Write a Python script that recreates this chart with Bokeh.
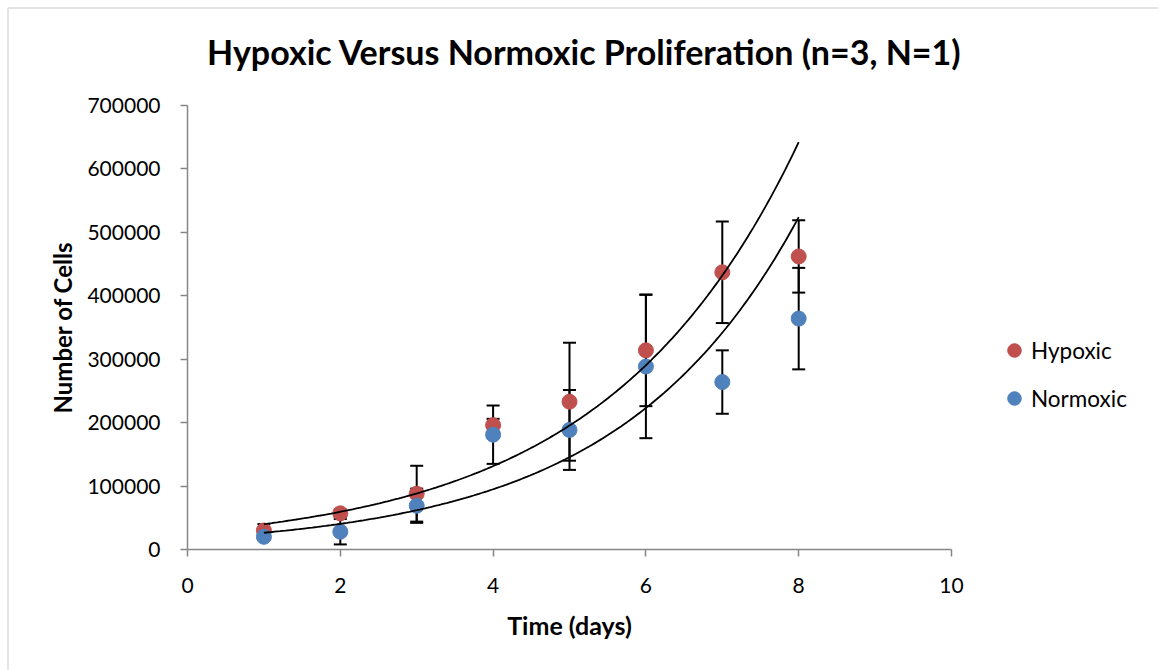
import numpy as np
from bokeh.plotting import figure
from bokeh.models import (Range1d, FixedTicker, Whisker, TeeHead, ColumnDataSource,
                          Legend, LegendItem, Label, BoxAnnotation)
from bokeh.embed import file_html
from bokeh.resources import INLINE

# ---- data ----
days = [1, 2, 3, 4, 5, 6, 7, 8]
hypoxic = [30000, 57000, 88000, 196000, 233000, 314000, 437000, 462000]
hypoxic_err = [10000, 6000, 44000, 10000, 93000, 88000, 80000, 57000]
normoxic = [20000, 28000, 69000, 181000, 188500, 288500, 264000, 364000]
normoxic_err = [5000, 20000, 27000, 46000, 63000, 113000, 50000, 80000]

x_ticks = [0, 2, 4, 6, 8, 10]
x_tick_labels = ["0", "2", "4", "6", "8", "10"]
y_ticks = [0, 100000, 200000, 300000, 400000, 500000, 600000, 700000]
y_tick_labels = ["0", "100000", "200000", "300000", "400000", "500000", "600000", "700000"]

title_text = "Hypoxic Versus Normoxic Proliferation (n=3, N=1)"
x_title = "Time (days)"
y_title = "Number of Cells"
series_names = ["Hypoxic", "Normoxic"]

RED = "#C0504D"
BLUE = "#4F81BD"
AXIS = "#868686"
FONT = "Lato"

# ---- layout: the frame covers the whole canvas; axes sit at fixed locations ----
W, H = 1158, 670
AX_L, AX_R = 187, 951      # pixel columns of x = 0 and x = 10
AX_T, AX_B = 105, 549      # pixel rows of y = 700000 and y = 0
x_lo, x_hi = x_ticks[0], x_ticks[-1]
y_lo, y_hi = y_ticks[0], y_ticks[-1]
xppu = (AX_R - AX_L) / (x_hi - x_lo)
yppu = (AX_B - AX_T) / (y_hi - y_lo)
x_range = Range1d(x_lo - AX_L / xppu, x_lo + (W - AX_L) / xppu)
y_range = Range1d(y_lo - (H - AX_B) / yppu, y_lo + AX_B / yppu)

p = figure(width=W, height=H, output_backend="svg", toolbar_location=None,
           x_range=x_range, y_range=y_range,
           min_border_left=0, min_border_right=0, min_border_top=0, min_border_bottom=0)
p.background_fill_color = "white"
p.border_fill_color = "white"
p.outline_line_color = None
p.grid.visible = False

for ax, ticks, labels, bnds in ((p.xaxis[0], x_ticks, x_tick_labels, (x_lo, x_hi)),
                                (p.yaxis[0], y_ticks, y_tick_labels, (y_lo, y_hi))):
    ax.fixed_location = 0
    ax.bounds = bnds
    ax.ticker = FixedTicker(ticks=ticks)
    ax.major_label_overrides = {t: l for t, l in zip(ticks, labels)}
    ax.axis_line_color = AXIS
    ax.axis_line_width = 1.5
    ax.major_tick_line_color = AXIS
    ax.major_tick_line_width = 1.5
    ax.major_tick_out = 7
    ax.major_tick_in = 0
    ax.minor_tick_line_color = None
    ax.major_label_text_font = FONT
    ax.major_label_text_font_size = "21px"
    ax.major_label_text_color = "black"
    ax.axis_label_text_font = FONT
    ax.axis_label_text_font_size = "24px"
    ax.axis_label_text_font_style = "bold"
    ax.axis_label_text_color = "black"

p.xaxis.axis_label = x_title
p.yaxis.axis_label = y_title
p.xaxis.axis_label_text_font_size = "25px"
p.xaxis.major_label_standoff = 21
p.xaxis.axis_label_standoff = 14
p.yaxis.major_label_standoff = 20
p.yaxis.axis_label_standoff = 7

# ---- error bars ----
def add_whisker(vals, errs):
    src = ColumnDataSource(dict(x=days,
                                upper=[v + e for v, e in zip(vals, errs)],
                                lower=[v - e for v, e in zip(vals, errs)]))
    w = Whisker(base="x", upper="upper", lower="lower", source=src,
                line_color="black", line_width=2,
                upper_head=TeeHead(size=13, line_color="black", line_width=2),
                lower_head=TeeHead(size=13, line_color="black", line_width=2))
    p.add_layout(w)

add_whisker(hypoxic, hypoxic_err)
add_whisker(normoxic, normoxic_err)

# ---- markers ----
r_h = p.scatter(days, hypoxic, size=15, marker="circle", fill_color=RED, line_color=RED)
r_n = p.scatter(days, normoxic, size=15, marker="circle", fill_color=BLUE, line_color=BLUE)

# ---- exponential trendlines (least-squares fit of ln(y), as a spreadsheet does) ----
xs = np.linspace(min(days), max(days), 200)
for vals in (hypoxic, normoxic):
    b, ln_a = np.polyfit(days, np.log(vals), 1)
    p.line(xs, np.exp(ln_a + b * xs), line_color="black", line_width=1.8)

# ---- legend ----
legend = Legend(items=[LegendItem(label=series_names[0], renderers=[r_h]),
                       LegendItem(label=series_names[1], renderers=[r_n])],
                location=(997, H - 415), glyph_width=34, glyph_height=34, spacing=14,
                label_standoff=-3, padding=0, margin=0,
                border_line_color=None, background_fill_alpha=0,
                label_text_font=FONT, label_text_font_size="22.5px", label_text_color="black")
p.add_layout(legend)

# ---- title ----
p.add_layout(Label(x=584, y=H - 51, x_units="screen", y_units="screen", text=title_text,
                   text_align="center", text_baseline="middle", text_font=FONT,
                   text_font_size="34px", text_font_style="bold", text_color="black"))

# ---- chart-area border ----
p.add_layout(BoxAnnotation(left=7.5, right=3000, top=H - 7.5, bottom=-3000,
                           left_units="screen", right_units="screen",
                           top_units="screen", bottom_units="screen",
                           fill_alpha=0, line_color="#888888", line_width=1.5))

open("out.html", "w").write(file_html(p, INLINE))
